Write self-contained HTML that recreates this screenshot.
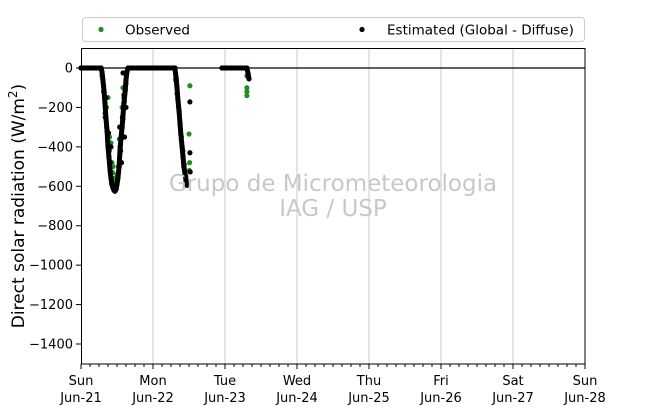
<!DOCTYPE html>
<html><head><meta charset="utf-8">
<style>
html,body{margin:0;padding:0;background:#fff;}
svg{display:block;font-family:"DejaVu Sans","Liberation Sans",sans-serif;}
</style></head>
<body>
<svg id="chart" width="650" height="409" viewBox="0 0 650 409">
  <g id="grid"></g>
  <line x1="81" x2="585" y1="68" y2="68" stroke="#000" stroke-width="1.2"/>
  <g id="marks"></g>
  <rect x="81.5" y="48.5" width="503.5" height="315.5" fill="none" stroke="#000" stroke-width="1"/>
  <g id="axes"></g>
  <text x="333" y="191" text-anchor="middle" font-size="23" fill="#c8c8c8">Grupo de Micrometeorologia</text>
  <text x="333" y="216" text-anchor="middle" font-size="23" fill="#c8c8c8">IAG / USP</text>
  <text transform="translate(24,206) rotate(-90)" text-anchor="middle" font-size="17" fill="#000">Direct solar radiation (W/m<tspan dy="-7" font-size="12">2</tspan><tspan dy="7">)</tspan></text>
  <g>
    <rect x="82.5" y="17.5" width="502" height="24" rx="3" fill="#fff" stroke="#ccc"/>
    <circle cx="101" cy="29.5" r="2.6" fill="#228b22"/>
    <text x="125" y="34.5" font-size="13.5">Observed</text>
    <circle cx="362" cy="29.5" r="2.6" fill="#000"/>
    <text x="387" y="34.5" font-size="13.5">Estimated (Global - Diffuse)</text>
  </g>
</svg>
<script>
const dayNames = ["Sun","Mon","Tue","Wed","Thu","Fri","Sat","Sun"];
const dayDates = ["Jun-21","Jun-22","Jun-23","Jun-24","Jun-25","Jun-26","Jun-27","Jun-28"];
const yTicks = [0,-200,-400,-600,-800,-1000,-1200,-1400];
// hours since Sun Jun-21 00:00
const estHours = [0,1,2,3,4,5,6,6.7,7,7.3,7.7,8,8.3,8.7,9,9.3,9.7,10,10.3,10.7,11,11.3,11.7,12,12.3,12.7,13,13.3,13.7,14,14.3,14.7,15,15.3,15.7,17,19,21,23,25,27,29,31,31.3,31.7,32,32.3,32.7,33,33.3,33.7,34,34.3,34.7,35,35.3,47,48,50,52,54,55.3,55.7,56];
const estValues = [0,0,0,0,0,0,0,0,-20,-60,-120,-180,-250,-320,-400,-450,-520,-560,-590,-610,-620,-625,-615,-590,-560,-500,-420,-360,-300,-240,-180,-120,-60,-20,0,0,0,0,0,0,0,0,0,0,-50,-100,-160,-220,-280,-340,-400,-450,-500,-540,-570,-595,0,0,0,0,0,0,-30,-55];
const estExtraHours = [14,14.3,13.8,14.5,13.5,15,8.3,10,9.7,36.3,36.3,36.4,12.9,13.2,9.2];
const estExtraValues = [-25,-137,-250,-350,-480,-200,-150,-400,-480,-172,-430,-527,-300,-420,-330];
const obsHours = [7,7.5,8,8.5,9,9.5,10,10.5,11,11.5,12,12.5,13,13.5,14,14.5,15,8,8.5,9,10,10.3,12.5,13,13.7,14,14.3,13.5,11.5,12,9.5,10.7,31.5,32,32.5,33,33.5,34,34.5,35,36.3,36,36.2,36.1,55.3,55.3,55.3,55.3,14.8,12.8];
const obsValues = [-40,-120,-230,-300,-380,-420,-480,-530,-560,-580,-560,-500,-430,-340,-260,-170,-80,-250,-200,-150,-380,-480,-500,-400,-200,-100,-150,-300,-560,-540,-350,-500,-60,-130,-200,-280,-350,-420,-490,-550,-90,-335,-480,-520,-40,-100,-120,-140,-110,-360];

const X0=81, PXH=3, Y0=68, PXV=39.43/200;
const xs = h => X0 + h*PXH;
const ys = v => Y0 - v*PXV;
const NS="http://www.w3.org/2000/svg";
const grid=document.getElementById('grid'), axes=document.getElementById('axes'), marks=document.getElementById('marks');
function mk(tag,attrs,parent){const e=document.createElementNS(NS,tag);for(const k in attrs)e.setAttribute(k,attrs[k]);parent.appendChild(e);return e;}

dayNames.forEach((d,i)=>{
  const x=xs(i*24);
  if(i>0&&i<7){const g=mk('line',{x1:x,x2:x,y1:48,y2:364,stroke:'#c8c8c8','stroke-width':1},grid);
    
    }
  const t=mk('line',{x1:x,x2:x,y1:364,y2:369,stroke:'#000'},axes);
  
  
  const l1=mk('text',{x:x,y:385,'text-anchor':'middle','font-size':13},axes);
  l1.textContent=d;
  
  
  const l2=mk('text',{x:x,y:402,'text-anchor':'middle','font-size':13},axes);
  l2.textContent=dayDates[i];
  
  
  if(i<7){for(let k=1;k<8;k++){const mx=xs(i*24+k*3);
    const m=mk('line',{x1:mx,x2:mx,y1:364,y2:367,stroke:'#000'},axes);
    
    }}
});
yTicks.forEach(v=>{
  const y=ys(v);
  const t=mk('line',{x1:76,x2:81,y1:y,y2:y,stroke:'#000'},axes);
  
  
  const l=mk('text',{x:73,y:y+4.5,'text-anchor':'end','font-size':13},axes);
  l.textContent=v===0?'0':'\u2212'+Math.abs(v);
  
  
});

// observed (green)
obsHours.forEach((h,i)=>{
  const c=mk('circle',{cx:xs(h),cy:ys(obsValues[i]),r:2.6,fill:'#228b22'},marks);
  
  
});
// estimated (black) dense trace
const segs=[[],[]];
let pts=estHours.map((h,i)=>[xs(h),ys(estValues[i])]);
let d='';
pts.forEach((p,i)=>{const gap=i>0&&estHours[i]-estHours[i-1]>5;d+=(i===0||gap?'M':'L')+p[0].toFixed(1)+','+p[1].toFixed(1);});
const path=mk('path',{d:d,fill:'none',stroke:'#000','stroke-width':5,'stroke-linejoin':'round','stroke-linecap':'round'},marks);


estHours.forEach((h,i)=>{
  const c=mk('circle',{cx:xs(h),cy:ys(estValues[i]),r:2.6,fill:'#000'},marks);
  
  
});
estExtraHours.forEach((h,i)=>{
  const c=mk('circle',{cx:xs(h),cy:ys(estExtraValues[i]),r:2.6,fill:'#000'},marks);
  
  
});
</script>
</body></html>
